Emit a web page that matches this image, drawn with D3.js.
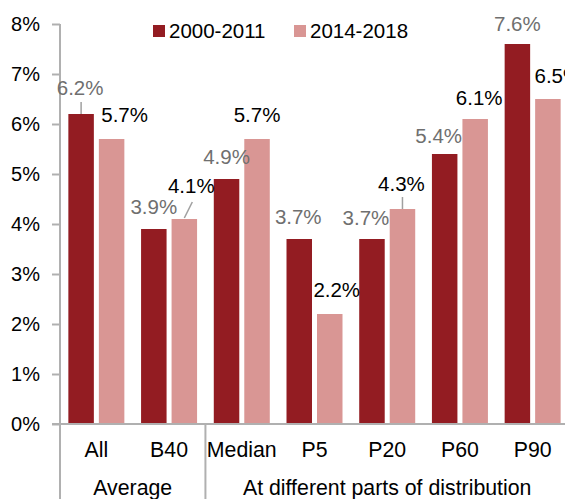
<!DOCTYPE html>
<html>
<head>
<meta charset="utf-8">
<script src="https://cdn.jsdelivr.net/npm/d3@7"></script>
<style>
  body { margin: 0; background: #fff; }
  svg { display: block; font-family: "Liberation Sans", Arial, sans-serif; }
</style>
</head>
<body>
<div id="chart"></div>
<script>
var categories = ["All", "B40", "Median", "P5", "P20", "P60", "P90"];
var groups = [
  { name: "Average", members: ["All", "B40"] },
  { name: "At different parts of distribution", members: ["Median", "P5", "P20", "P60", "P90"] }
];
var seriesNames = ["2000-2011", "2014-2018"];
var values2000 = [6.2, 3.9, 4.9, 3.7, 3.7, 5.4, 7.6];
var values2014 = [5.7, 4.1, 5.7, 2.2, 4.3, 6.1, 6.5];
var yTicks = [0, 1, 2, 3, 4, 5, 6, 7, 8];

// label nudges (dx, dy from bar top centre) and leader lines, per category
var labelOffsets2000 = [[-1, -19], [0, -15], [0, -15], [-1, -15], [-6, -14], [-6, -11], [0, -13]];
var labelOffsets2014 = [[13, -17], [7, -26], [0, -17], [7, -17], [-1, -18], [4, -14], [10, -16]];
var leaders2000 = [[0, -12, 0, 0], null, null, null, null, null, null];
var leaders2014 = [null, [8, -17, 0, -1], null, null, [0, -12, 0, 0], null, null];

var width = 565, height = 499;
var colors = ["#931c22", "#d99694"];
var labelColors = ["#6f6f6f", "#000"];
var axisColor = "#b0b0b0";

var svg = d3.select("#chart").append("svg")
  .attr("width", width)
  .attr("height", height);

var x0 = d3.scaleBand()
  .domain(categories)
  .range([60, 569])
  .padding(0);

var x1 = d3.scaleBand()
  .domain(seriesNames)
  .range([0, x0.bandwidth()])
  .paddingInner(0.164)
  .paddingOuter(0.274);

var y = d3.scaleLinear()
  .domain([0, 8])
  .range([424, 24]);

// y axis
var yAxis = d3.axisLeft(y)
  .tickValues(yTicks)
  .tickSize(8)
  .tickPadding(12)
  .tickFormat(function(d) { return d + "%"; });

var gy = svg.append("g")
  .attr("transform", "translate(60,0)")
  .call(yAxis);
gy.select(".domain").remove();
gy.selectAll(".tick line").attr("stroke", axisColor).attr("stroke-width", 2);
gy.selectAll(".tick text")
  .attr("fill", "#000")
  .attr("font-size", 20)
  .attr("font-family", "Liberation Sans, Arial, sans-serif");

// bars
var rows = categories.map(function(c, i) {
  return { cat: c, vals: [values2000[i], values2014[i]], idx: i };
});

var cat = svg.append("g").selectAll("g")
  .data(rows)
  .enter().append("g")
  .attr("transform", function(d) { return "translate(" + x0(d.cat) + ",0)"; });

cat.selectAll("rect")
  .data(function(d) { return d.vals.map(function(v, s) { return { v: v, s: s }; }); })
  .enter().append("rect")
  .attr("x", function(d) { return x1(seriesNames[d.s]); })
  .attr("width", x1.bandwidth())
  .attr("y", function(d) { return y(d.v); })
  .attr("height", function(d) { return y(0) - y(d.v); })
  .attr("fill", function(d) { return colors[d.s]; });

// baseline and vertical axis line
svg.append("line")
  .attr("x1", 52).attr("x2", width)
  .attr("y1", y(0)).attr("y2", y(0))
  .attr("stroke", axisColor).attr("stroke-width", 2);

svg.append("line")
  .attr("x1", 60).attr("x2", 60)
  .attr("y1", y(8)).attr("y2", height)
  .attr("stroke", axisColor).attr("stroke-width", 2);

// group separators
groups.forEach(function(g) {
  var gx = x0(g.members[g.members.length - 1]) + x0.bandwidth();
  svg.append("line")
    .attr("x1", gx).attr("x2", gx)
    .attr("y1", y(0)).attr("y2", height)
    .attr("stroke", axisColor).attr("stroke-width", 2);
  var left = x0(g.members[0]);
  svg.append("text")
    .attr("x", (left + gx) / 2)
    .attr("y", 495)
    .attr("text-anchor", "middle")
    .attr("font-size", 21.3)
    .text(g.name);
});

// category labels
svg.append("g").selectAll("text")
  .data(categories)
  .enter().append("text")
  .attr("x", function(d) { return x0(d) + x0.bandwidth() / 2; })
  .attr("y", 457)
  .attr("text-anchor", "middle")
  .attr("font-size", 21.3)
  .text(function(d) { return d; });

// value labels
function addLabels(vals, s, offsets, leaders) {
  vals.forEach(function(v, i) {
    var cx = x0(categories[i]) + x1(seriesNames[s]) + x1.bandwidth() / 2;
    var top = y(v);
    var off = offsets[i];
    svg.append("text")
      .attr("x", cx + off[0])
      .attr("y", top + off[1])
      .attr("text-anchor", "middle")
      .attr("font-size", 20.5)
      .attr("fill", labelColors[s])
      .text(v.toFixed(1) + "%");
    var l = leaders[i];
    if (l) {
      svg.append("line")
        .attr("x1", cx + l[0]).attr("y1", top + l[1])
        .attr("x2", cx + l[2]).attr("y2", top + l[3])
        .attr("stroke", "#a0a0a0").attr("stroke-width", 1.5);
    }
  });
}
addLabels(values2000, 0, labelOffsets2000, leaders2000);
addLabels(values2014, 1, labelOffsets2014, leaders2014);

// legend
var legendX = [153, 294];
var legend = svg.append("g").selectAll("g")
  .data(seriesNames)
  .enter().append("g")
  .attr("transform", function(d, i) { return "translate(" + legendX[i] + ",0)"; });
legend.append("rect")
  .attr("x", 0).attr("y", 25)
  .attr("width", 12).attr("height", 12)
  .attr("fill", function(d, i) { return colors[i]; });
legend.append("text")
  .attr("x", 16).attr("y", 38)
  .attr("font-size", 20.5)
  .text(function(d) { return d; });
</script>
</body>
</html>
